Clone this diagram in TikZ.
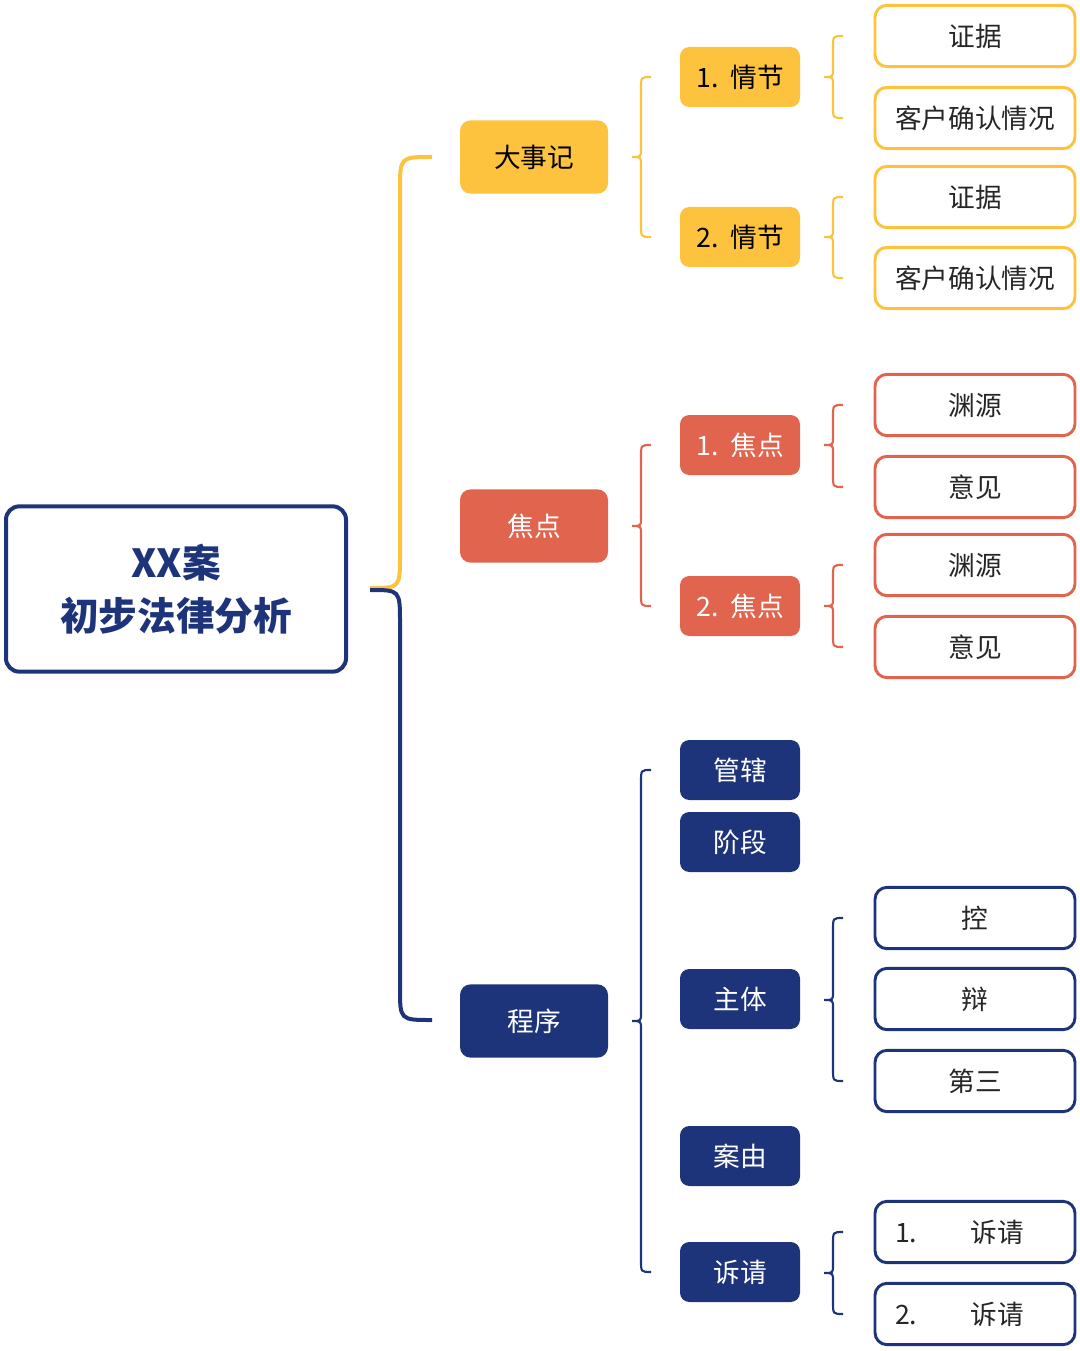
\documentclass[tikz,border=0pt]{standalone}
\usepackage{fontspec}
\setmainfont{Noto Sans CJK SC}
\definecolor{cy}{HTML}{FDC23E}
\definecolor{cr}{HTML}{E1644F}
\definecolor{cn}{HTML}{1E347A}
\begin{document}
\begin{tikzpicture}[x=0.75pt,y=-0.75pt,
  l1/.style={rounded corners=8pt,minimum width=111pt,minimum height=55pt,font=\fontsize{20}{24}\selectfont},
  l2/.style={rounded corners=7pt,minimum width=90pt,minimum height=45pt,font=\fontsize{20}{24}\selectfont},
  l3/.style={draw,line width=2.2pt,fill=white,rounded corners=9pt,minimum width=150pt,minimum height=46pt,font=\fontsize{20}{24}\selectfont,text=black!85},
  br/.style={line width=1.6pt}]
\useasboundingbox (0,0) rectangle (1080,1351);
\newcommand\brc[5]{% color,x,top,mid,bot
  \draw[br,#1] (#2+10,#3) .. controls (#2,#3) .. (#2,#3+12) -- (#2,#4-8) .. controls (#2,#4) .. (#2-9,#4) .. controls (#2,#4) .. (#2,#4+8) -- (#2,#5-12) .. controls (#2,#5) .. (#2+10,#5);}
% root
\node[draw=cn,line width=3pt,rounded corners=10pt,minimum width=255pt,minimum height=124pt,align=center,font=\fontsize{29}{40}\selectfont\bfseries,text=cn] (root) at (176,589) {XX案\\初步法律分析};
\draw[cy,line width=3pt] (370,588) .. controls (400,588) .. (400,555) -- (400,190) .. controls (400,157) .. (432,157);
\draw[cn,line width=3pt] (370,590) .. controls (400,590) .. (400,623) -- (400,988) .. controls (400,1020) .. (432,1020);
% level1
\node[l1,fill=cy,text=black] (a) at (534,157) {大事记};
\node[l1,fill=cr,text=white] (b) at (534,526) {焦点};
\node[l1,fill=cn,text=white] (c) at (534,1021) {程序};
\brc{cy}{641}{77}{157}{237}
\brc{cr}{641}{445}{526}{606}
\brc{cn}{641}{770}{1021}{1272}
% level2
\node[l2,fill=cy,text=black] (a1) at (740,77) {1.\ \ 情节};
\node[l2,fill=cy,text=black] (a2) at (740,237) {2.\ \ 情节};
\node[l2,fill=cr,text=white] (b1) at (740,445) {1.\ \ 焦点};
\node[l2,fill=cr,text=white] (b2) at (740,606) {2.\ \ 焦点};
\node[l2,fill=cn,text=white] (c1) at (740,770) {管辖};
\node[l2,fill=cn,text=white] (c2) at (740,842) {阶段};
\node[l2,fill=cn,text=white] (c3) at (740,999) {主体};
\node[l2,fill=cn,text=white] (c4) at (740,1156) {案由};
\node[l2,fill=cn,text=white] (c5) at (740,1272) {诉请};
\brc{cy}{833}{36}{77}{118}
\brc{cy}{833}{197}{237}{278}
\brc{cr}{833}{405}{445}{487}
\brc{cr}{833}{565}{606}{647}
\brc{cn}{833}{918}{1000}{1081}
\brc{cn}{833}{1232}{1273}{1314}
% level3
\node[l3,draw=cy] (a11) at (975,36) {证据};
\node[l3,draw=cy] (a12) at (975,118) {客户确认情况};
\node[l3,draw=cy] (a21) at (975,197) {证据};
\node[l3,draw=cy] (a22) at (975,278) {客户确认情况};
\node[l3,draw=cr] (b11) at (975,405) {渊源};
\node[l3,draw=cr] (b12) at (975,487) {意见};
\node[l3,draw=cr] (b21) at (975,565) {渊源};
\node[l3,draw=cr] (b22) at (975,647) {意见};
\node[l3,draw=cn] (c31) at (975,918) {控};
\node[l3,draw=cn] (c32) at (975,999) {辩};
\node[l3,draw=cn] (c33) at (975,1081) {第三};
\node[l3,draw=cn] (c51) at (975,1232) {\makebox[120pt][l]{1.\hspace{40pt}诉请}};
\node[l3,draw=cn] (c52) at (975,1314) {\makebox[120pt][l]{2.\hspace{40pt}诉请}};
\end{tikzpicture}
\end{document}
